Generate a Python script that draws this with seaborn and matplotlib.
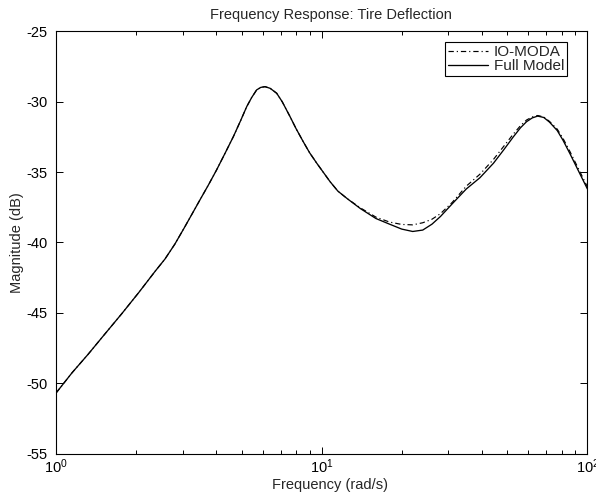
import numpy as np
import pandas as pd
import matplotlib
matplotlib.use("Agg")
import matplotlib.pyplot as plt
import seaborn as sns

# Data
freq = [1.0, 1.15, 1.32, 1.52, 1.77, 2.05, 2.36, 2.57, 2.8, 3.03, 3.25, 3.48,
        3.75, 4.02, 4.33, 4.65, 4.95, 5.22, 5.45, 5.69, 5.9, 6.12, 6.4, 6.77,
        7.1, 7.6, 8.0, 8.52, 9.0, 9.58, 10.75, 11.5, 12.5, 14, 16, 18, 20, 22,
        24, 26, 28, 31, 35, 39.4, 44.3, 48.5, 52.6, 56, 59, 62, 65, 68.5, 72,
        77, 81, 86, 93, 100]
full_model = [-50.70, -49.25, -47.95, -46.55, -45.05, -43.55, -42.05, -41.18,
              -40.12, -39.00, -37.98, -36.98, -35.90, -34.85, -33.65, -32.48,
              -31.35, -30.35, -29.70, -29.16, -28.98, -28.93, -29.05, -29.40,
              -30.00, -31.06, -31.90, -32.84, -33.62, -34.37, -35.68, -36.35,
              -36.90, -37.60, -38.30, -38.70, -39.05, -39.22, -39.12, -38.70,
              -38.15, -37.25, -36.20, -35.40, -34.37, -33.40, -32.50, -31.85,
              -31.42, -31.15, -31.02, -31.12, -31.45, -32.05, -32.75, -33.70,
              -35.00, -36.20]
io_moda = [-50.70, -49.25, -47.95, -46.55, -45.05, -43.55, -42.05, -41.18,
           -40.12, -39.00, -37.98, -36.98, -35.90, -34.85, -33.65, -32.48,
           -31.35, -30.35, -29.70, -29.16, -28.98, -28.93, -29.05, -29.40,
           -30.00, -31.06, -31.90, -32.84, -33.62, -34.37, -35.68, -36.35,
           -36.90, -37.55, -38.20, -38.55, -38.72, -38.75, -38.60, -38.35,
           -37.95, -37.15, -36.00, -35.15, -34.10, -33.15, -32.30, -31.70,
           -31.30, -31.08, -30.98, -31.08, -31.40, -31.95, -32.62, -33.55,
           -34.85, -36.05]
series_names = ["IO-MODA", "Full Model"]

sns.set_style("ticks")
plt.rcParams["font.family"] = ["Liberation Sans", "DejaVu Sans"]
plt.rcParams["mathtext.fontset"] = "custom"
plt.rcParams["mathtext.rm"] = "Liberation Sans"
plt.rcParams["mathtext.it"] = "Liberation Sans"

df = pd.DataFrame({"freq": freq * 2,
                   "mag": io_moda + full_model,
                   "series": [series_names[0]] * len(freq) + [series_names[1]] * len(freq)})

fig = plt.figure(figsize=(5.96, 4.93), dpi=100)
ax = fig.add_axes([0.094, 0.080, 0.8916, 0.8564])

sns.lineplot(data=df[df.series == "IO-MODA"], x="freq", y="mag", ax=ax,
             color="black", lw=0.85, linestyle=(0, (4.5, 2.5, 1, 2.5)),
             label="IO-MODA", sort=False, estimator=None)
sns.lineplot(data=df[df.series == "Full Model"], x="freq", y="mag", ax=ax,
             color="black", lw=0.95, linestyle="-",
             label="Full Model", sort=False, estimator=None)

ax.set_xscale("log")
ax.set_xlim(1, 100)
ax.set_ylim(-55, -25)
ax.set_yticks([-55, -50, -45, -40, -35, -30, -25])
ax.set_yticklabels(["-55", "-50", "-45", "-40", "-35", "-30", "-25"])

for s in ax.spines.values():
    s.set_visible(True)
    s.set_linewidth(0.8)
    s.set_color("black")

ax.tick_params(which="both", direction="in", top=True, right=True,
               colors="black", labelsize=10.5, width=0.7)
ax.tick_params(which="major", length=5)
ax.tick_params(axis="y", which="major", pad=6)
ax.tick_params(axis="x", which="major", pad=3)
ax.tick_params(which="minor", length=3)

ax.set_xlabel("Frequency (rad/s)", fontsize=10.5)
ax.set_ylabel("Magnitude (dB)", fontsize=10.5)
ax.xaxis.set_label_coords(0.515, -0.058)
ax.yaxis.set_label_coords(-0.06, 0.5)
t = ax.set_title("Frequency Response: Tire Deflection", fontsize=10.5, pad=9)
t.set_x(0.518)

leg = ax.legend(loc="upper right", bbox_to_anchor=(0.962, 0.975),
                fontsize=11, handlelength=2.6, handletextpad=0.4,
                borderpad=0.2, labelspacing=0.0, borderaxespad=0.0,
                fancybox=False, framealpha=1, edgecolor="black")
leg.get_frame().set_linewidth(0.8)

fig.savefig("out.png", dpi=100)
